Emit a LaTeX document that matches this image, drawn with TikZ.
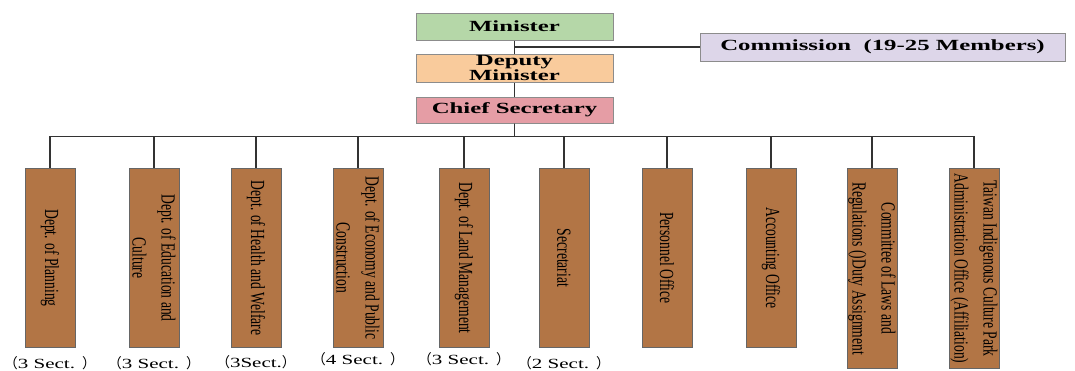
\documentclass[tikz,border=0pt]{standalone}
\usepackage{fontspec}
\setmainfont{Liberation Serif}
\newfontfamily\headfont[FakeStretch=1.6]{Liberation Serif}
\newfontfamily\deptfont[FakeStretch=0.68]{Liberation Serif}
\newfontfamily\sectfont[FakeStretch=1.5]{Liberation Serif}
\newfontfamily\cjk{Noto Sans CJK SC}
\usetikzlibrary{positioning}
\definecolor{ministergreen}{HTML}{B5D7A8}
\definecolor{deputyorange}{HTML}{F9CB9C}
\definecolor{chiefpink}{HTML}{E59DA5}
\definecolor{commlilac}{HTML}{DDD6E9}
\definecolor{deptbrown}{HTML}{B27545}
\newcommand{\sectlabel}[1]{{\cjk （}#1{\cjk ）}}
\tikzset{
  head/.style={
    rectangle,
    draw=black!45,
    line width=1pt,
    align=center,
    inner sep=0pt,
    minimum width=197pt,
    minimum height=27pt,
    font=\headfont\bfseries\fontsize{15.5}{15}\selectfont
  },
  dept/.style={
    rectangle,
    draw=black!60,
    fill=deptbrown,
    line width=1pt,
    rotate=-90,
    anchor=west,
    align=center,
    inner sep=0pt,
    minimum width=179pt,
    minimum height=50pt,
    font=\deptfont\fontsize{20}{29}\selectfont
  },
  sect/.style={
    inner sep=0pt,
    font=\sectfont\fontsize{14}{15}\selectfont
  },
  link/.style={
    line width=1.5pt,
    draw=black!80
  }
}

\begin{document}
\begin{tikzpicture}[x=1pt, y=1pt]
  \useasboundingbox (0,0) rectangle (1075,-370);

  % Leadership
  \node[head, fill=ministergreen] (minister) at (514.5,-26.5) {Minister};
  \node[head, fill=deputyorange, below=13pt of minister, minimum height=28pt] (deputy) {Deputy\\Minister};
  \node[head, fill=chiefpink, below=14pt of deputy, minimum height=26pt] (chief) {Chief Secretary};
  \node[head, fill=commlilac, minimum width=365pt, minimum height=28pt] (commission) at (882.5,-47) {Commission~ (19-25 Members)};

  % Departments and offices
  \node[dept] (plan) at (50,-168) {Dept. of Planning};
  \node[dept] (edu) at (154,-168) {Dept. of Education and\\Culture};
  \node[dept] (health) at (256,-168) {Dept. of Health and Welfare};
  \node[dept] (econ) at (358,-168) {Dept. of Economy and Public\\Construction};
  \node[dept] (land) at (464,-168) {Dept. of Land Management};
  \node[dept] (secr) at (564,-168) {Secretariat};
  \node[dept] (pers) at (667,-168) {Personnel Office};
  \node[dept] (acct) at (771,-168) {Accounting Office};
  \node[dept, minimum width=200pt] (laws) at (872,-168) {Committee of Laws and\\Regulations ()Duty Assignment};
  \node[dept, minimum width=200pt] (park) at (974,-168) {Taiwan Indigenous Culture Park\\Administration Office (Affiliation)};

  % Sections
  \node[sect] (plansect) at ([yshift=-15pt]plan.east) {\sectlabel{3 Sect. }};
  \node[sect] (edusect) at ([yshift=-15pt]edu.east) {\sectlabel{3 Sect. }};
  \node[sect] (healthsect) at ([yshift=-14pt]health.east) {\sectlabel{3Sect.}};
  \node[sect] (econsect) at ([yshift=-11pt]econ.east) {\sectlabel{4 Sect. }};
  \node[sect] (landsect) at ([yshift=-11pt]land.east) {\sectlabel{3 Sect. }};
  \node[sect] (secrsect) at ([yshift=-15pt]secr.east) {\sectlabel{2 Sect. }};

  % Links
  \draw[link] (minister) -- (deputy);
  \draw[link] (deputy) -- (chief);
  \draw[link] (commission.west) -- (commission.west -| minister.south);
  \draw[link] (chief.south) -- ++(0,-13) -| (plan.west);
  \draw[link] (chief.south) -- ++(0,-13) -| (edu.west);
  \draw[link] (chief.south) -- ++(0,-13) -| (health.west);
  \draw[link] (chief.south) -- ++(0,-13) -| (econ.west);
  \draw[link] (chief.south) -- ++(0,-13) -| (land.west);
  \draw[link] (chief.south) -- ++(0,-13) -| (secr.west);
  \draw[link] (chief.south) -- ++(0,-13) -| (pers.west);
  \draw[link] (chief.south) -- ++(0,-13) -| (acct.west);
  \draw[link] (chief.south) -- ++(0,-13) -| (laws.west);
  \draw[link] (chief.south) -- ++(0,-13) -| (park.west);
\end{tikzpicture}
\end{document}
